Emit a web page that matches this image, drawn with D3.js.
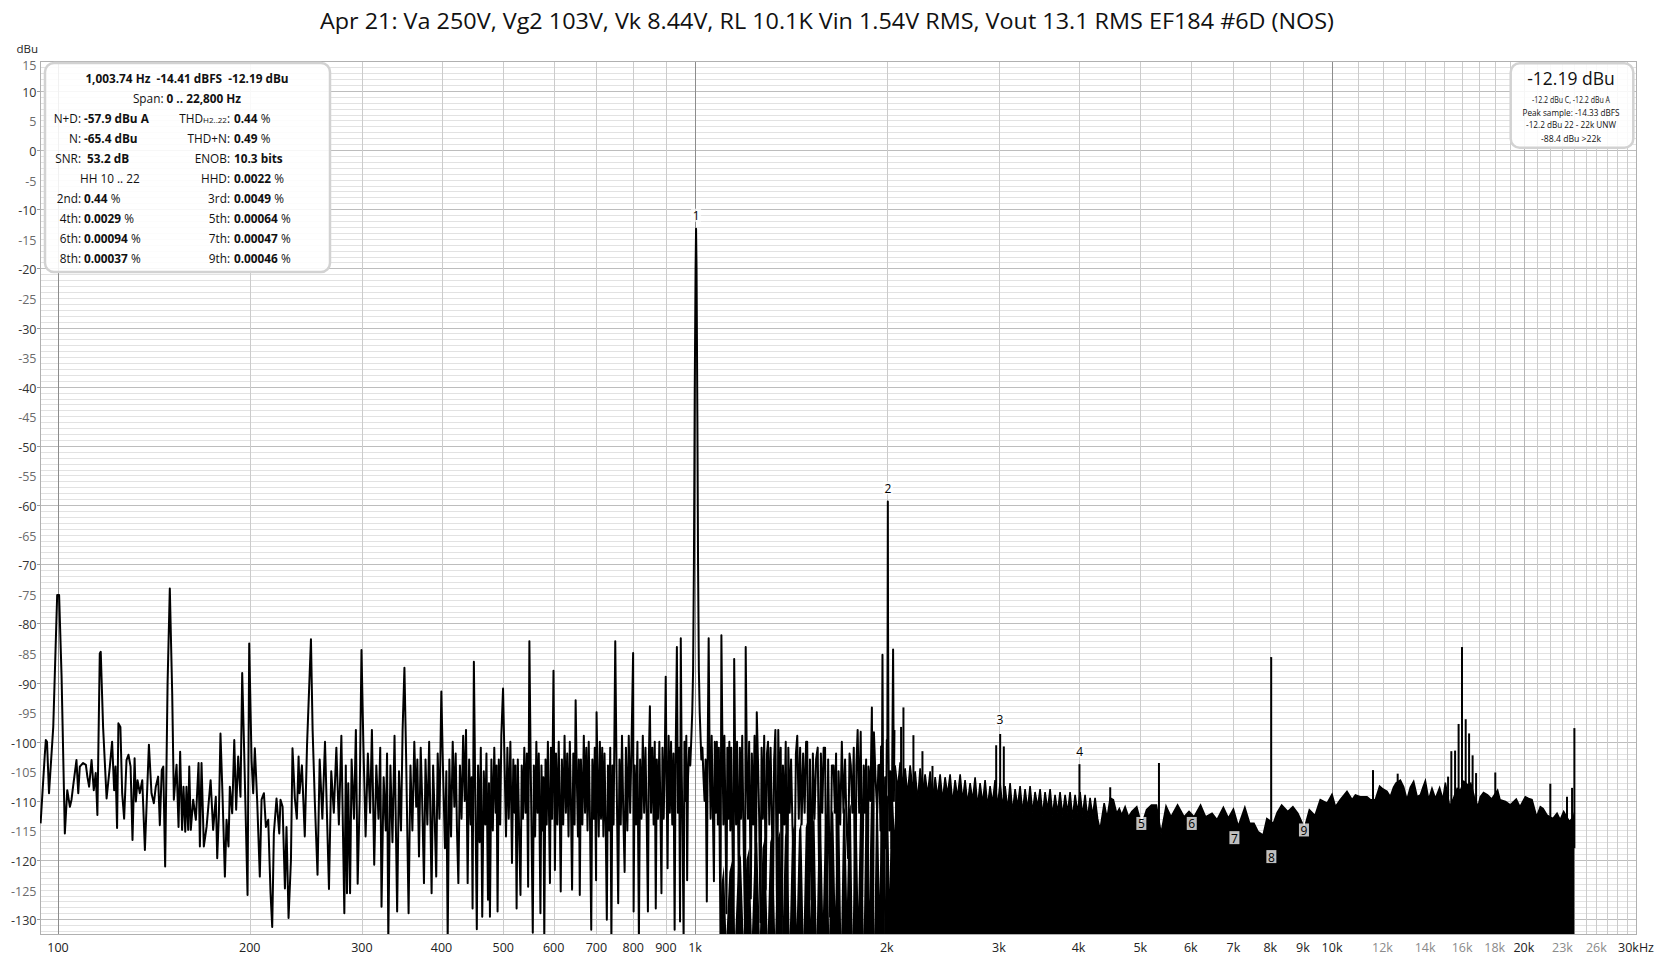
<!DOCTYPE html>
<html><head><meta charset="utf-8">
<script src="https://cdn.jsdelivr.net/npm/d3@7/dist/d3.min.js"></script>
<style>
html,body{margin:0;padding:0;background:#fff;}
svg{display:block;font-family:"Open Sans","Noto Sans",sans-serif;}
text{white-space:pre;}
</style></head><body>
<svg id="chart" width="1656" height="959"></svg>
<script>
// ---------------- DATA ----------------
const titleText = "Apr 21: Va 250V, Vg2 103V, Vk 8.44V, RL 10.1K Vin 1.54V RMS, Vout 13.1 RMS EF184 #6D (NOS)";
const yUnit = "dBu";
const yTickValues = [15,10,5,0,-5,-10,-15,-20,-25,-30,-35,-40,-45,-50,-55,-60,-65,-70,-75,-80,-85,-90,-95,-100,-105,-110,-115,-120,-125,-130];
const xTickValues = [100,200,300,400,500,600,700,800,900,1000,2000,3000,4000,5000,6000,7000,8000,9000,10000,12000,14000,16000,18000,20000,23000,26000,30000];
const xTickLabels = ["100","200","300","400","500","600","700","800","900","1k","2k","3k","4k","5k","6k","7k","8k","9k","10k","12k","14k","16k","18k","20k","23k","26k","30kHz"];
const xTickMuted = ["12k","14k","16k","18k","23k","26k"];

// spectrum trace, [Hz, dBu] (resolved part, 94 Hz .. 2.06 kHz)
const spectrumTrace = [
[93.9,-113.8],[95.3,-102.5],[95.7,-99.7],[96.1,-100.0],[96.8,-108.7],[98.3,-97.5],[99.7,-75.2],[100.4,-75.2],[101.3,-89.0],[102.5,-115.5],[103.4,-108.2],[104.4,-111.0],[105.0,-109.8],[105.6,-107.6],[106.9,-103.1],[107.6,-108.7],[108.2,-104.2],[109.5,-103.6],[110.6,-103.9],[111.2,-105.9],[111.9,-107.6],[112.9,-103.1],[113.8,-108.2],[114.6,-105.3],[115.3,-112.4],[116.3,-85.1],[116.7,-84.8],[117.7,-97.5],[119.2,-109.6],[120.6,-104.2],[121.6,-100.0],[122.5,-108.2],[123.1,-104.2],[123.8,-114.6],[124.4,-96.9],[125.3,-97.5],[126.1,-108.7],[127.0,-113.0],[128.1,-103.1],[129.0,-102.2],[130.0,-104.2],[130.9,-116.6],[131.9,-102.8],[132.5,-110.1],[133.3,-106.5],[134.4,-108.7],[135.6,-106.5],[136.9,-118.3],[138.9,-100.5],[140.2,-108.7],[141.4,-110.4],[142.4,-107.6],[143.6,-105.9],[144.5,-114.1],[145.5,-104.8],[146.3,-104.2],[147.3,-121.1],[148.6,-90.1],[149.8,-74.1],[151.1,-91.8],[152.0,-109.8],[153.5,-103.9],[154.6,-114.4],[155.5,-101.7],[156.6,-114.9],[157.4,-107.6],[158.4,-115.2],[159.1,-107.6],[160.1,-114.9],[160.7,-104.2],[161.6,-114.9],[163.0,-109.8],[164.6,-113.2],[166.2,-103.6],[167.0,-117.7],[168.0,-103.6],[169.4,-117.7],[171.1,-114.4],[173.6,-106.5],[175.2,-114.9],[176.9,-109.3],[177.8,-119.7],[178.9,-112.1],[179.9,-98.6],[181.2,-108.7],[182.8,-122.8],[183.9,-113.2],[185.2,-117.7],[186.1,-107.6],[187.7,-112.1],[189.1,-99.7],[190.4,-111.5],[191.8,-102.5],[193.4,-109.3],[194.6,-88.4],[196.0,-101.7],[198.4,-125.9],[199.6,-83.4],[201.3,-103.1],[202.5,-108.7],[203.7,-101.1],[205.4,-109.8],[207.4,-122.8],[208.7,-109.8],[210.5,-108.7],[212.0,-114.4],[213.8,-113.2],[215.6,-125.6],[216.9,-131.3],[218.2,-115.5],[220.3,-109.6],[222.5,-115.5],[223.5,-109.8],[225.2,-111.0],[227.1,-124.8],[228.4,-114.4],[230.1,-129.8],[232.1,-120.0],[233.4,-101.1],[235.4,-109.6],[237.1,-113.0],[238.6,-102.5],[239.4,-108.7],
[241.5,-104],[244,-116],[246,-100.5],[249.5,-82.7],[251,-98],[253,-110],[255.5,-122.5],[257.5,-103],[260,-113],[262.5,-100],[266.3,-124.9],[268.5,-105],[271,-112],[273.5,-101],[276,-114],[278.5,-99],[281.5,-129.0],[283,-104],[284.2,-125.6],[285.5,-107],[287.4,-125.6],[289,-103],[291.5,-113],[293.5,-98],[295.4,-124.0],[297.5,-110],[299.5,-84.5],[301.5,-100],[304,-116],[306.5,-102],[309,-112],[311,-98],[313.6,-120.8],[316,-104],[318.5,-113],[320.5,-101],[322.0,-127.9],[324.5,-106],[327,-115],[328.5,-102],[330.0,-133.5],[332.5,-104],[335,-117],[337.5,-99],[340.7,-128.7],[343,-105],[345.5,-115],[347.5,-98],[349.8,-87.5],[352,-103],[355.1,-129.0],[357.5,-104],[360,-115],[362.5,-100],[365,-111],[366.5,-103],[368.7,-119.4],[371,-101],[373,-110],[375.4,-123.9],[377.5,-103],[380,-114],[382.5,-100],[385.9,-125.6],[388,-104],[390,-112],[392.4,-122.8],[394.5,-102],[397,-113],[399.7,-91.5],[402,-104],[405,-118],[407,-105],[409.0,-133.5],[411.5,-103],[414,-116],[416.5,-100],[419,-111],[421,-102],[423,-115],[425.1,-123.9],[427.5,-104],[430,-113],[432.5,-99],[435,-110],[437,-98],[439.6,-123.9],[442,-103],[444.5,-114],[446,-106],[447.5,-128.2],[449.6,-86.5],[451.5,-105],[454.4,-131.7],[456.5,-104],[459,-117],[461,-101],[463.4,-129.6],[466,-105],[468.5,-114],[470.5,-102],[473.1,-126.7],[474.8,-107],[476.5,-129.6],[479,-103],[481.5,-115],[484,-101],[486.5,-112],[488,-104],[489.8,-128.7],[492,-103],[494.5,-114],[496.5,-99],[499.6,-91],[502,-102],[505,-116],[507.5,-101],[510,-113],[513,-100],[516.0,-120.5],[518.5,-103],[521,-112],[522.5,-104],[524.7,-128.2],[527,-103],[529.5,-115],[532.1,-125.9],[534.5,-104],[537,-113],[539.5,-101],[542,-112],[544.5,-102],[547.0,-124.5],[549.5,-83],[552,-103],[556.3,-132.3],[558.5,-104],[561,-116],[563.5,-100],[566,-112],[568.5,-102],[571.9,-129.0],[574,-104],[576.5,-115],[578,-106],[579.9,-133.5],[582.5,-103],[585,-114],[587.5,-100],[589.5,-110],[591.9,-123.9],[594,-101],[596.5,-113],[599.5,-88],[602.6,-121.7],[605,-102],[608,-114],[611,-100],[613,-110],[615.4,-125.3],[618,-103],[621,-114],[624,-99],[627,-112],[630,-102],[633,-116],[636,-100],[638.5,-110],[641.2,-125.0],[644,-102],[647,-114],[649.5,-93],[652,-105],[655,-116],[657,-103],[659.3,-125.9],[662,-103],[665.5,-114],[669,-99],[672,-112],[675,-101],[678,-115],[681,-100],[684,-113],[687.2,-131.8],[690,-103],[693.5,-113],[696,-101],[699.3,-123.4],[700.5,-95],[703,-105],[706,-116],[709,-100],[712,-113],[715,-101],[718,-116],[721,-102],[724,-114],[727,-130.1],[730,-104],[733.5,-115],[736,-101],[739.1,-133.5],[742,-104],[745,-114],[749.5,-83],[753,-105],[757.5,-127.3],[761,-103],[764.5,-114],[768,-99],[771.5,-112],[775.3,-122.0],[779,-101],[783,-115],[787,-99],[791,-112],[795,-100],[799.5,-85],[800.9,-128.7],[804,-104],[808,-114],[812,-100],[816.4,-133.5],[820,-103],[824,-113],[828,-99],[832,-112],[836,-101],[840,-114],[843.4,-128.7],[846.5,-102],[849.5,-94],[853,-112],[857,-101],[861,-114],[864.5,-100],[867.7,-128.2],[871,-103],[875,-113],[879,-100],[882.5,-112],[885.7,-125.6],[889,-101],[893,-113],[896.5,-102],[899.5,-89],[902.5,-108],[905.5,-121.4],[909,-99],[913,-112],[917,-100],[921,-114],[925,-102],[928.9,-131.8],[932,-104],[936.5,-84],[940,-112],[944,-101],[947.3,-130.4],[949.8,-82.5],[953,-105],[956,-116],[959.6,-133.5],[962.5,-100],[966,-110],[969,-99],[971.9,-123.4],[975,-106],[979,-101],[983,-104],[987,-99],[990,-95],[993,-88],[996,-70],[999,-40],[1002,-20],[1003.74,-13.3],[1005.5,-20],[1008.5,-45],[1011,-70],[1014,-88],[1017,-95],[1020,-99],[1023,-103],[1027,-101],[1031,-106],[1035,-110],[1039,-103],[1043.5,-127.0],[1047,-101],[1050.5,-82.5],[1054,-102],[1058,-113],[1062,-99],[1066,-110],[1070.7,-123.6],[1074,-100],[1078,-112],[1082,-100],[1086,-114],[1090,-101],[1096.3,-132.4],[1100,-82],[1104,-100],[1108,-114],[1112,-99],[1116,-112],[1120.3,-129.0],[1124,-101],[1128,-113],[1132,-100],[1136,-115],[1140,-101],[1144,-113],[1149.8,-132.4],[1152,-86],[1156,-103],[1160,-114],[1164,-100],[1168,-112],[1172.1,-126.2],[1176,-101],[1181,-113],[1186,-99],[1191,-114],[1198.3,-132.4],[1201,-84],[1206,-104],[1211,-113],[1216,-100],[1223.4,-126.5],[1228,-102],[1234,-114],[1240,-99],[1245.6,-132.4],[1250,-95],[1256,-104],[1261,-113],[1267,-130.5],[1272,-101],[1278,-113],[1284,-99],[1291.2,-125.0],[1297,-102],[1302,-100],[1308,-114],[1314,-101],[1320,-112],[1325.2,-128.2],[1331,-103],[1337,-98],[1345.8,-132.4],[1351,-98],[1357,-112],[1363,-101],[1368.6,-133.5],[1374,-104],[1381,-114],[1388,-100],[1395.3,-133.5],[1401,-101],[1408,-112],[1415,-103],[1422,-114],[1432.2,-125.6],[1440,-102],[1447,-99],[1455,-113],[1462,-101],[1470,-114],[1478,-102],[1486,-112],[1494,-100],[1500,-100],[1508.3,-133.5],[1515,-103],[1523.7,-126.7],[1531,-102],[1540,-113],[1549,-103],[1558,-101],[1567.8,-127.3],[1576,-102],[1584,-112],[1592,-101],[1600,-101],[1608.6,-133.5],[1618,-103],[1629.4,-129.6],[1640,-104],[1650,-104],[1658,-112],[1665,-102],[1672,-131.2],[1680,-105],[1690,-114],[1700,-100],[1710,-112],[1720,-103],[1729,-114],[1738.6,-119.7],[1748,-102],[1756,-104],[1766,-112],[1775,-101],[1783.9,-133.5],[1792,-104],[1800,-98],[1810,-112],[1820,-98.3],[1830,-126.2],[1840,-104],[1848,-112],[1856,-103],[1866.2,-133.5],[1872,-104.2],[1878,-106],[1885,-110],[1895,-94.2],[1903,-133.5],[1909,-98.4],[1920,-106],[1932,-112],[1940,-104],[1947,-103.9],[1955,-115],[1959,-100.8],[1963,-120],[1969,-85.3],[1974,-112],[1978,-133.5],[1988,-106],[1994,-118],[2000,-99.7],[2004,-100],[2006,-80],[2007.5,-59.4],[2009,-80],[2012,-100],[2018,-115],[2025,-105],[2035,-118],[2046,-84.4],[2052,-110],[2056,-98]
];

// dense bins under the trace between 1.1 kHz and 2.08 kHz, top edge with gaps [Hz, dBu]
const denseTopMid = [
[1092,-135],[1100,-124],[1110,-121],[1120,-133],[1132,-122],[1144,-120],[1156,-133],[1168,-121],[1180,-119],[1192,-133],[1204,-120],[1216,-118],[1228,-133],[1240,-119],[1252,-117],[1264,-133],[1276,-118],[1288,-116],[1300,-133],[1312,-117],[1324,-115.5],[1336,-133],[1348,-116.5],[1360,-115],[1372,-133],[1384,-116],[1396,-114.5],[1408,-133],[1420,-115.5],[1432,-114],[1444,-131],[1456,-115],[1468,-113.5],[1480,-133],[1492,-114.5],[1504,-113],[1516,-130],[1528,-114],[1540,-112.5],[1552,-133],[1564,-113.5],[1576,-112],[1588,-129],[1600,-113],[1612,-112],[1624,-133],[1636,-112.5],[1648,-111.5],[1660,-128],[1672,-112.5],[1684,-111],[1696,-133],[1708,-112],[1720,-111],[1732,-127],[1744,-111.5],[1756,-110.5],[1768,-133],[1780,-111.5],[1792,-110.5],[1804,-128],[1816,-111],[1828,-110],[1840,-133],[1852,-111],[1864,-110],[1876,-127],[1888,-110.5],[1900,-109.5],[1912,-133],[1924,-110.5],[1936,-109.5],[1948,-126],[1960,-110],[1972,-109],[1984,-133],[1996,-109.5],[2008,-109],[2020,-125],[2032,-109.5],[2044,-108.5],[2056,-115],[2068,-107],[2080,-107]
];

// noise-floor top edge above 2.06 kHz, [Hz, dBu] (dense bins, filled to the bottom)
const floorTop = [
[2061,-104],[2080,-108],[2099,-103.5],[2118,-107],[2137,-104.5],[2156,-109],[2176,-104],[2196,-108],[2216,-105],[2236,-110],[2256,-104.5],[2277,-108.5],[2297,-105.5],[2318,-109],[2339,-105],[2360,-110],[2382,-106],[2403,-109.5],[2425,-105.5],[2447,-110],[2469,-106],[2491,-109],[2514,-105.5],[2537,-110.5],[2560,-106.5],[2583,-109.5],[2607,-105.5],[2630,-110],[2654,-106.5],[2678,-110.5],[2703,-107],[2727,-110],[2752,-106],[2777,-111],[2802,-107],[2828,-110.5],[2853,-106.5],[2879,-111],[2905,-107.5],[2931,-110.5],[2958,-106.5],[2985,-111],[3012,-107],[3040,-111],[3067,-107.5],[3095,-111.5],[3123,-107],[3151,-112],[3180,-108],[3209,-111],[3238,-107.5],[3267,-112],[3297,-108],[3327,-111.5],[3357,-107.5],[3388,-112],[3418,-108.5],[3450,-111],[3481,-108],[3512,-112.5],[3544,-108.5],[3576,-111.5],[3609,-108],[3641,-112.5],[3674,-109],[3708,-112],[3741,-108.5],[3776,-112.5],[3810,-109],[3845,-112],[3879,-108.5],[3914,-113],[3950,-109],[3986,-112],[4022,-108.5],[4058,-112.5],[4095,-109],[4133,-113],[4170,-109.5],[4208,-112.5],[4246,-109.5],[4285,-113],
[4323,-114.9],[4388,-110.4],[4434,-112.9],[4485,-109.5],[4536,-109.8],[4590,-112.1],[4635,-111.3],[4674,-112.4],[4733,-111],[4791,-112.7],[4850,-111.8],[4936,-111],[5024,-114.1],[5115,-111.5],[5206,-110.7],[5300,-110.7],[5390,-115.5],[5488,-110.9],[5587,-112.7],[5721,-110.7],[5858,-112.7],[5963,-111.8],[6072,-112.7],[6217,-110.7],[6330,-112.7],[6480,-112.1],[6597,-113.2],[6751,-111.1],[6873,-112.9],[7000,-111.4],[7125,-114.3],[7296,-111.1],[7426,-113.8],[7540,-113.8],[7652,-115.2],[7794,-115.8],[7900,-113],[8089,-113.8],[8200,-112],[8335,-110.7],[8520,-111.8],[8680,-111],[8838,-112.1],[9050,-114.6],[9212,-111.5],[9400,-112.5],[9583,-109.8],[9823,-110.4],[9998,-108.9],[10124,-111],[10301,-109.8],[10554,-108.4],[10751,-109.8],[10880,-109],[11073,-109.3],[11345,-109.3],[11483,-109.8],[11692,-109.8],[11876,-107.5],[12017,-108.0],[12196,-108.4],[12341,-109.3],[12488,-107.7],[12600,-107],[12800,-106.5],
[12950,-107.6],[13110,-109.8],[13270,-107.7],[13430,-106.7],[13600,-109.3],[13760,-109],[13890,-107.7],[14010,-106.6],[14180,-109.8],[14350,-107.9],[14530,-109.6],[14750,-107.8],[14930,-109.8],[15060,-106.9],[15300,-111],[15480,-109.8],[15720,-107.9],[15910,-108.2],[16100,-106.7],[16320,-107.3],[16510,-107],[16720,-109.3],[16950,-111],[17090,-109.3],[17290,-108.6],[17540,-109],[17800,-109.7],[18190,-108.2],[18350,-109.8],[18710,-110.1],[19040,-110.7],[19460,-109.7],[19720,-111],[20110,-109.3],[20340,-109.6],[20600,-109.8],[20950,-112.7],[21230,-111],[21440,-111.3],[21750,-112.4],[22210,-113],[22550,-112.1],[22810,-113.2],[23100,-111.8],[23580,-113.5],[23950,-112.7],[24010,-112]
];

// narrow spurs standing above the floor, [Hz, dBu]
const spurs = [
[2106,-97.5],[2124,-94.2],[2202,-98.9],[2275,-101.6],[2359,-104.1],[2970,-100.6],[3013,-98.7],[3053,-100.8],[4013,-103.8],[4485,-107.7],[5349,-103.6],[8025,-85.7],[11594,-104.8],[12677,-105.4],[15210,-105.9],[15390,-101.6],[15600,-101.5],[15800,-97],[15995,-84],[16210,-96.2],[16410,-98.6],[16620,-102.3],[16830,-105.3],[18040,-105.2],[22010,-107.1],[23380,-109.3],[23810,-107.8],[24010,-97.7]
];

// harmonic markers
const harmonicNumbers = ["1","2","3","4","5","6","7","8","9"];
const harmonicFreq = [1003.74,2007.5,3011,4015,5019,6022,7026,8030,9034];
const harmonicLabelDb = [-11.1,-57.2,-96.3,-101.6,-113.9,-113.9,-116.3,-119.5,-115.0];

// measurement panel
const statsHeader = "1,003.74 Hz  -14.41 dBFS  -12.19 dBu";
const statsSpanLabel = "Span: ";
const statsSpanValue = "0 .. 22,800 Hz";
const statsLeftLabels = ["N+D:","N:","SNR:","","2nd:","4th:","6th:","8th:"];
const statsLeftValues = ["-57.9 dBu A","-65.4 dBu"," 53.2 dB","","0.44","0.0029","0.00094","0.00037"];
const statsLeftUnits  = ["","","","",  " %"," %"," %"," %"];
const statsHHText = "HH 10 .. 22";
const statsRightLabels = ["THD","THD+N:","ENOB:","HHD:","3rd:","5th:","7th:","9th:"];
const statsRightValues = ["0.44","0.49","10.3 bits","0.0022","0.0049","0.00064","0.00047","0.00046"];
const statsRightUnits  = [" %"," %",""," %"," %"," %"," %"," %"];
const levelMain = "-12.19 dBu";
const levelLines = ["-12.2 dBu C, -12.2 dBu A","Peak sample: -14.33 dBFS","-12.2 dBu 22 - 22k UNW","-88.4 dBu >22k"];

// ---------------- DRAW ----------------
const svg = d3.select("#chart");
const P = {left:40, right:1636, top:61.3, bottom:934};
const x = d3.scaleLog().domain([93.7, 30000]).range([P.left, P.right]);
const y = d3.scaleLinear().domain([-132.5, 15]).range([P.bottom, P.top]);

svg.append("defs").append("clipPath").attr("id","plotclip")
  .append("rect").attr("x",P.left).attr("y",P.top).attr("width",P.right-P.left).attr("height",P.bottom-P.top);

// horizontal grid (1 dB)
const grid = svg.append("g").attr("shape-rendering","crispEdges");
d3.range(-132, 16, 1).forEach(v => {
  const yy = Math.round(y(v)) + 0.5;
  grid.append("line").attr("x1",P.left).attr("x2",P.right).attr("y1",yy).attr("y2",yy)
    .attr("stroke", v % 10 === 0 ? "#bdbdbd" : "#e2e2e2").attr("stroke-width",1);
});
// vertical grid
const vGrid = d3.range(100,1000,100).concat(d3.range(1000,10000,1000)).concat(d3.range(10000,30001,1000));
vGrid.forEach(f => {
  const xx = Math.round(x(f)) + 0.5;
  const dark = (f===100||f===1000||f===10000);
  grid.append("line").attr("x1",xx).attr("x2",xx).attr("y1",P.top).attr("y2",P.bottom)
    .attr("stroke", dark ? "#8c8c8c" : (f===20000 ? "#b4b4b4" : "#cbcbcb")).attr("stroke-width",1);
});
// frame
grid.append("rect").attr("x",P.left+0.5).attr("y",Math.round(P.top)+0.5)
  .attr("width",P.right-P.left).attr("height",Math.round(P.bottom-P.top))
  .attr("fill","none").attr("stroke","#b0b0b0");

// y ticks
const yAx = svg.append("g");
yTickValues.forEach((v,i) => {
  const off = i === 0 ? 3.8 : 1.5;
  yAx.append("text").attr("x",36.5).attr("y",y(v)+off).attr("text-anchor","end")
    .attr("dominant-baseline","central").style("font-size","12.5px")
    .attr("fill", v % 10 === 0 ? "#333" : "#6a6a6a").text(String(v));
  if (v % 10 === 0) yAx.append("line").attr("x1",P.left-3).attr("x2",P.left).attr("y1",Math.round(y(v))+0.5).attr("y2",Math.round(y(v))+0.5).attr("stroke","#999");
});
yAx.append("text").attr("x",38).attr("y",48).attr("text-anchor","end").attr("dominant-baseline","central")
  .style("font-size","11.5px").attr("fill","#222").text(yUnit);

// x ticks
const xAx = svg.append("g");
xTickValues.forEach((f,i) => {
  const lab = xTickLabels[i];
  xAx.append("text").attr("x",x(f)).attr("y",947).attr("text-anchor","middle")
    .attr("dominant-baseline","central").style("font-size","12.5px")
    .attr("fill", xTickMuted.includes(lab) ? "#8a8a8a" : "#222").text(lab);
});

// title
svg.append("text").attr("x",827).attr("y",29).attr("text-anchor","middle")
  .style("font-size","22px").attr("fill","#111")
  .attr("textLength",1014).attr("lengthAdjust","spacingAndGlyphs").text(titleText);

// data
const plotG = svg.append("g").attr("clip-path","url(#plotclip)");
const floorArea = d3.area().x(d=>x(d[0])).y0(y(-140)).y1(d=>y(d[1]));
const edgeLine = d3.line().x(d=>x(d[0])).y(d=>y(d[1]));
plotG.append("path").datum(denseTopMid).attr("d",floorArea).attr("fill","#000");
plotG.append("path").datum(floorTop).attr("d",floorArea).attr("fill","#000");
plotG.append("path").datum(floorTop).attr("d",edgeLine)
  .attr("fill","none").attr("stroke","#000").attr("stroke-width",1.6);
plotG.selectAll("line.spur").data(spurs).enter().append("line").attr("class","spur")
  .attr("x1",d=>x(d[0])).attr("x2",d=>x(d[0])).attr("y1",d=>y(d[1])).attr("y2",y(-118))
  .attr("stroke","#000").attr("stroke-width",2);
plotG.append("path").datum(spectrumTrace)
  .attr("d", edgeLine)
  .attr("fill","none").attr("stroke","#000").attr("stroke-width",2).attr("stroke-linejoin","round");

// harmonic labels
const hl = svg.append("g");
harmonicNumbers.forEach((n,i) => {
  const cx = x(harmonicFreq[i]), cy = y(harmonicLabelDb[i]);
  hl.append("rect").attr("x",cx-5).attr("y",cy-7).attr("width",10).attr("height",13)
    .attr("fill","#fff").attr("fill-opacity",0.75);
  hl.append("text").attr("x",cx).attr("y",cy).attr("text-anchor","middle").attr("dominant-baseline","central")
    .style("font-size","12px").attr("fill","#000").text(n);
});

// left stats box
const sb = svg.append("g");
sb.append("rect").attr("x",45).attr("y",63).attr("width",285).attr("height",209).attr("rx",9)
  .attr("fill","#fff").attr("fill-opacity",0.88).attr("stroke","#d2d2d2").attr("stroke-width",2.5);
const fs = 11.8;
sb.append("text").attr("x",187).attr("y",83.3).attr("text-anchor","middle").style("font-size",fs+"px")
  .attr("font-weight",700).attr("fill","#111").text(statsHeader);
const sp = sb.append("text").attr("x",187).attr("y",103.3).attr("text-anchor","middle").style("font-size",fs+"px").attr("fill","#111");
sp.append("tspan").text(statsSpanLabel); sp.append("tspan").attr("font-weight",700).text(statsSpanValue);
statsLeftLabels.forEach((lab,i) => {
  const yy = 123.3 + 20*i;
  if (i === 3) {
    sb.append("text").attr("x",80).attr("y",yy).style("font-size",fs+"px").attr("fill","#111").text(statsHHText);
  } else {
    sb.append("text").attr("x",81).attr("y",yy).attr("text-anchor","end").style("font-size",fs+"px").attr("fill","#111").text(lab);
    const t = sb.append("text").attr("x",84).attr("y",yy).style("font-size",fs+"px").attr("fill","#111");
    t.append("tspan").attr("font-weight",700).text(statsLeftValues[i]);
    t.append("tspan").text(statsLeftUnits[i]);
  }
  const rl = sb.append("text").attr("x",230).attr("y",yy).attr("text-anchor","end").style("font-size",fs+"px").attr("fill","#111");
  if (i === 0) { rl.append("tspan").text("THD"); rl.append("tspan").style("font-size","8px").text("H2..22"); rl.append("tspan").text(":"); }
  else rl.text(statsRightLabels[i]);
  const rv = sb.append("text").attr("x",234).attr("y",yy).style("font-size",fs+"px").attr("fill","#111");
  rv.append("tspan").attr("font-weight",700).text(statsRightValues[i]);
  rv.append("tspan").text(statsRightUnits[i]);
});

// right level box
const lb = svg.append("g");
lb.append("rect").attr("x",1510.7).attr("y",63.3).attr("width",122.6).attr("height",84.4).attr("rx",9)
  .attr("fill","#fff").attr("fill-opacity",0.88).attr("stroke","#d2d2d2").attr("stroke-width",2.5);
lb.append("text").attr("x",1571).attr("y",85).attr("text-anchor","middle").style("font-size","17.5px")
  .attr("fill","#111").text(levelMain);
const lw = [78,97,90,60], lyb = [103,115.5,128,141.5];
levelLines.forEach((s,i) => {
  lb.append("text").attr("x",1571).attr("y",lyb[i]).attr("text-anchor","middle").style("font-size","9px")
    .attr("fill","#111").attr("textLength",lw[i]).attr("lengthAdjust","spacingAndGlyphs").text(s);
});
</script>
</body></html>
